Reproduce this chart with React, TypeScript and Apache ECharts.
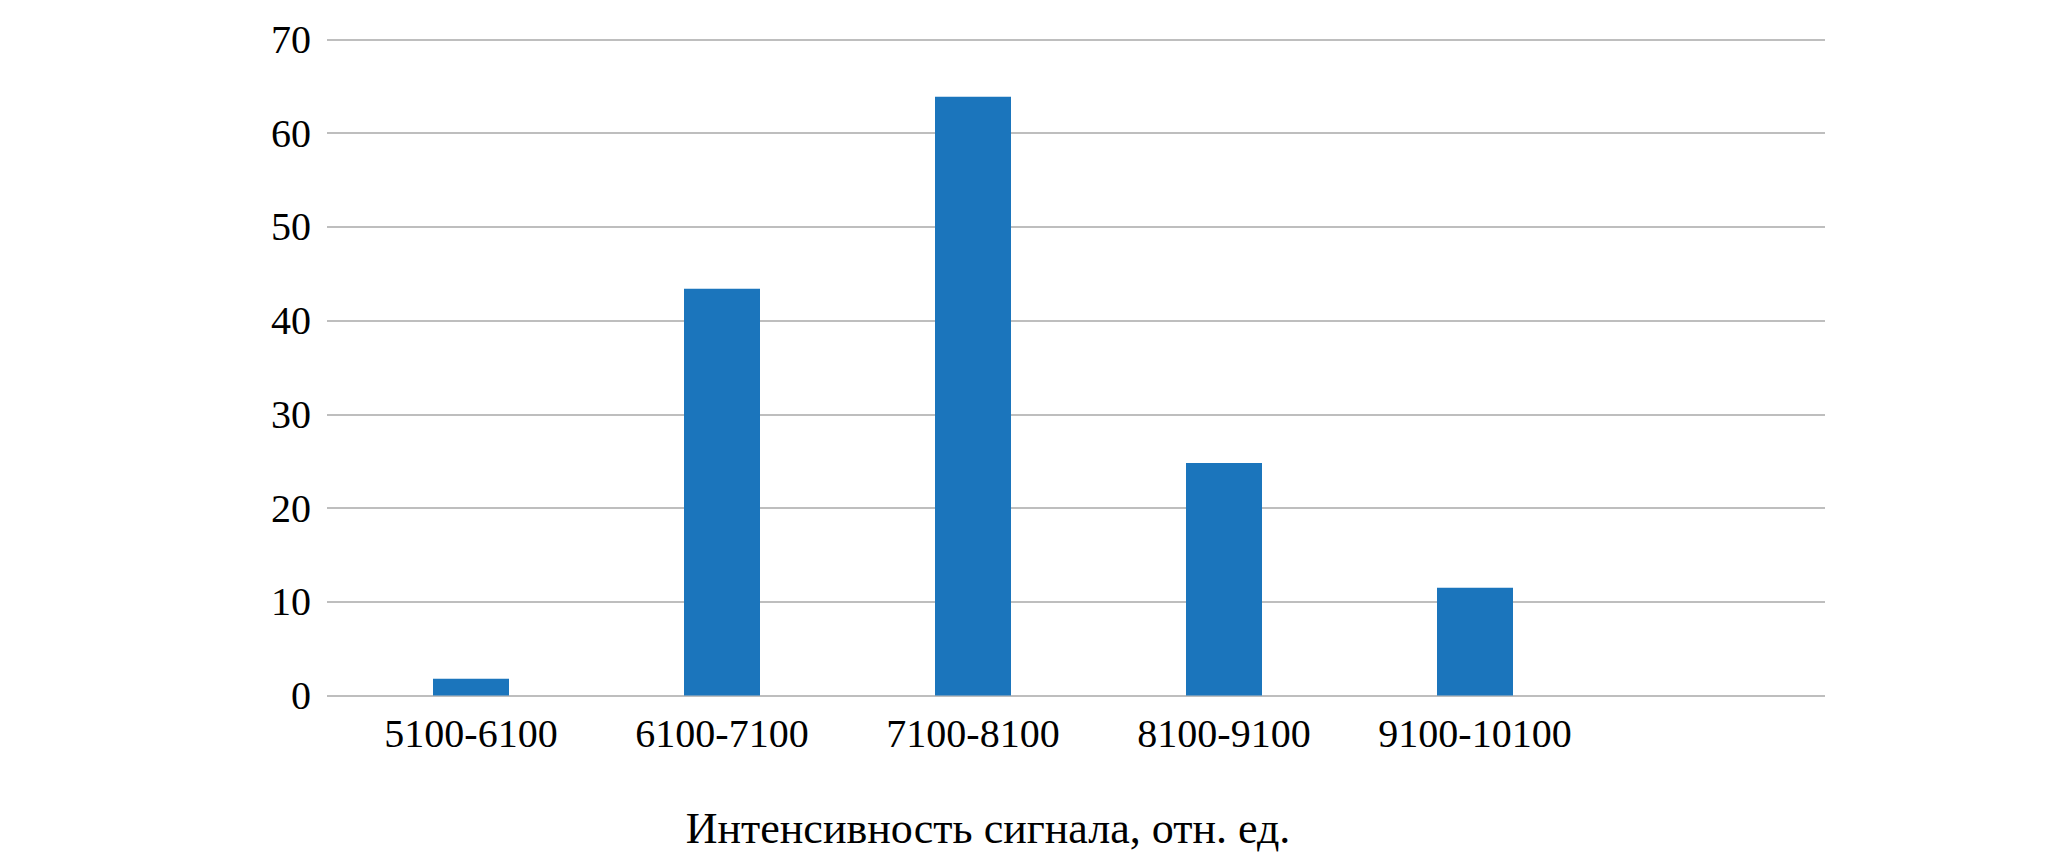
import React, { useEffect, useRef } from "react";
import * as echarts from "echarts";

const categories = ["5100-6100", "6100-7100", "7100-8100", "8100-9100", "9100-10100", ""];
const counts = [1.8, 43.4, 63.9, 24.8, 11.5, null];
const yTicks = { min: 0, max: 70, interval: 10 };
const axisTitle = "Интенсивность сигнала, отн. ед.";

const FONT = "'Liberation Serif', 'Times New Roman', serif";
const GRID_COLOR = "#a8a8a8";

export default function App() {
  const ref = useRef<HTMLDivElement>(null);
  useEffect(() => {
    if (!ref.current) return;
    const chart = echarts.init(ref.current, undefined, { renderer: "svg" });
    chart.setOption({
      animation: false,
      backgroundColor: "#ffffff",
      grid: [
        { left: 327, right: 242, top: 39.5, bottom: 166.5 },
        { left: 345.5, right: 215.5, top: 39.5, bottom: 166.5 },
      ],
      xAxis: [
        { type: "value", gridIndex: 0, show: false, min: 0, max: 1 },
        {
          type: "category",
          gridIndex: 1,
          data: categories,
          axisLine: { show: false },
          axisTick: { show: false },
          axisLabel: { interval: 0, fontFamily: FONT, fontSize: 40, color: "#000", margin: 18 },
          splitLine: { show: false },
        },
      ],
      yAxis: [
        {
          type: "value",
          gridIndex: 0,
          min: yTicks.min,
          max: yTicks.max,
          interval: yTicks.interval,
          axisLine: { show: false },
          axisTick: { show: false },
          axisLabel: { fontFamily: FONT, fontSize: 40, color: "#000", margin: 16 },
          splitLine: { show: true, lineStyle: { color: GRID_COLOR, width: 1.6 } },
        },
        {
          type: "value",
          gridIndex: 1,
          min: yTicks.min,
          max: yTicks.max,
          interval: yTicks.interval,
          show: false,
          splitLine: { show: false },
        },
      ],
      series: [
        {
          type: "bar",
          xAxisIndex: 1,
          yAxisIndex: 1,
          data: counts,
          barWidth: 76,
          itemStyle: { color: "#1b75bc" },
        },
      ],
      graphic: [
        {
          type: "text",
          x: 988,
          y: 828,
          style: {
            text: axisTitle,
            fontFamily: FONT,
            fontSize: 44,
            fill: "#000",
            align: "center",
            verticalAlign: "middle",
          },
        },
      ],
    });
    return () => chart.dispose();
  }, []);
  return (
    <div
      ref={ref}
      style={{ position: "fixed", left: 0, top: 0, width: 2067, height: 862 }}
    />
  );
}
